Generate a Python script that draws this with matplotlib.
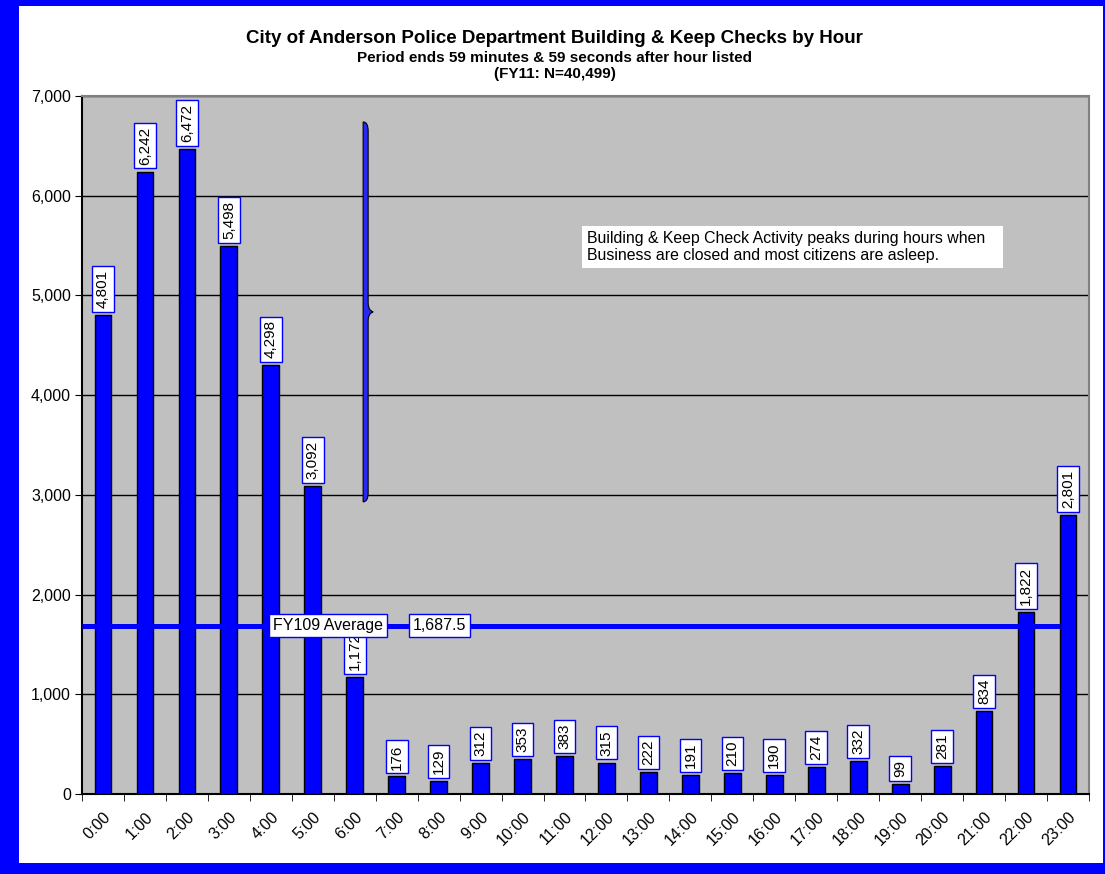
import matplotlib.pyplot as plt
import numpy as np
from matplotlib.patches import Rectangle, PathPatch
from matplotlib.path import Path

plt.rcParams['font.family'] = ['Liberation Sans', 'DejaVu Sans']

hours = ['%d:00' % h for h in range(24)]
checks = [4801, 6242, 6472, 5498, 4298, 3092, 1172, 176, 129, 312, 353, 383,
          315, 222, 191, 210, 190, 274, 332, 99, 281, 834, 1822, 2801]
average = 1687.5

title = 'City of Anderson Police Department Building & Keep Checks by Hour'
subtitle1 = 'Period ends 59 minutes & 59 seconds after hour listed'
subtitle2 = '(FY11: N=40,499)'
note = ('Building & Keep Check Activity peaks during hours when\n'
        'Business are closed and most citizens are asleep.')

W, H = 1105, 874
fig = plt.figure(figsize=(W / 100, H / 100), dpi=100)
fig.patch.set_facecolor('#0000FF')
# white panel inside the blue frame
fig.add_artist(Rectangle((19 / W, 11 / H), (1103 - 19) / W, (863 - 6) / H,
                         transform=fig.transFigure, fc='white', ec='none', zorder=0))

ax = fig.add_axes([82 / W, 80 / H, 1007 / W, 698 / H])
ax.set_facecolor('#C0C0C0')

x = np.arange(len(hours))
ax.bar(x, checks, width=0.4, color='#0000FF', edgecolor='black', linewidth=1, zorder=3)

for i, v in enumerate(checks):
    ax.annotate('{:,}'.format(v), (i, v), xytext=(0, 5), textcoords='offset points',
                rotation=90, ha='center', va='bottom', fontsize=11, zorder=4,
                bbox=dict(boxstyle='square,pad=0.25', fc='white', ec='#0000FF', lw=1))

# average line + labels
ax.hlines(average, -0.5, 22.8, color='#0000FF', lw=3.6, zorder=3.5)
ax.text(5.36, average, 'FY109 Average', ha='center', va='center', fontsize=11.5, zorder=6,
        bbox=dict(boxstyle='square,pad=0.25', fc='white', ec='#0000FF', lw=1))
ax.text(8.02, average, '{:,}'.format(average), ha='center', va='center', fontsize=11.5, zorder=6,
        bbox=dict(boxstyle='square,pad=0.25', fc='white', ec='#0000FF', lw=1))

# curly brace (straight left side, pointed tip on the right)
bx, y0, y1 = 6.2, 2930, 6740
ym = (y0 + y1) / 2
w = 0.12
tip = 0.24
verts = [(bx, y1),
         (bx + w, y1), (bx + w, y1 - 90),
         (bx + w, ym + 90),
         (bx + w, ym + 15), (bx + tip, ym),
         (bx + w, ym - 15), (bx + w, ym - 90),
         (bx + w, y0 + 90),
         (bx + w, y0), (bx, y0),
         (bx, y1)]
codes = [Path.MOVETO,
         Path.CURVE3, Path.CURVE3,
         Path.LINETO,
         Path.CURVE3, Path.CURVE3,
         Path.CURVE3, Path.CURVE3,
         Path.LINETO,
         Path.CURVE3, Path.CURVE3,
         Path.CLOSEPOLY]
ax.add_patch(PathPatch(Path(verts, codes), fc='#2828F0', ec='black', lw=0.8, zorder=5))

# note box
ax.add_patch(Rectangle((0.4965, 0.7536), 0.418, 0.0602, transform=ax.transAxes,
                       fc='white', ec='none', zorder=5))
ax.text(0.5015, 0.7837, note, transform=ax.transAxes, ha='left', va='center',
        fontsize=11.4, linespacing=1.12, zorder=6)

ax.set_xlim(-0.5, 23.5)
ax.set_ylim(0, 7000)
ax.set_yticks(range(0, 7001, 1000))
ax.set_yticklabels(['{:,}'.format(t) for t in range(0, 7001, 1000)], fontsize=11.5)
ax.yaxis.grid(True, color='black', lw=1, zorder=1)
ax.set_axisbelow(True)

ax.set_xticks(x)
ax.set_xticklabels(hours, rotation=45, ha='right', rotation_mode='anchor', fontsize=11.5)
ax.tick_params(axis='x', which='major', length=0, pad=11)
ax.set_xticks(np.arange(-0.5, 24, 1), minor=True)
ax.tick_params(axis='x', which='minor', length=5, direction='out')
ax.tick_params(axis='y', length=5, direction='out', pad=3)

for s in ['left', 'bottom']:
    ax.spines[s].set_color('black')
    ax.spines[s].set_linewidth(1.5)
for s in ['top', 'right']:
    ax.spines[s].set_color('#808080')
    ax.spines[s].set_linewidth(1.5)

fig.text(0.502, 1 - 43 / H, title, ha='center', va='baseline', fontsize=13.5, fontweight='bold')
fig.text(0.502, 1 - 62 / H, subtitle1, ha='center', va='baseline', fontsize=11, fontweight='bold')
fig.text(0.502, 1 - 78 / H, subtitle2, ha='center', va='baseline', fontsize=11, fontweight='bold')

fig.savefig('out.png', dpi=100)
